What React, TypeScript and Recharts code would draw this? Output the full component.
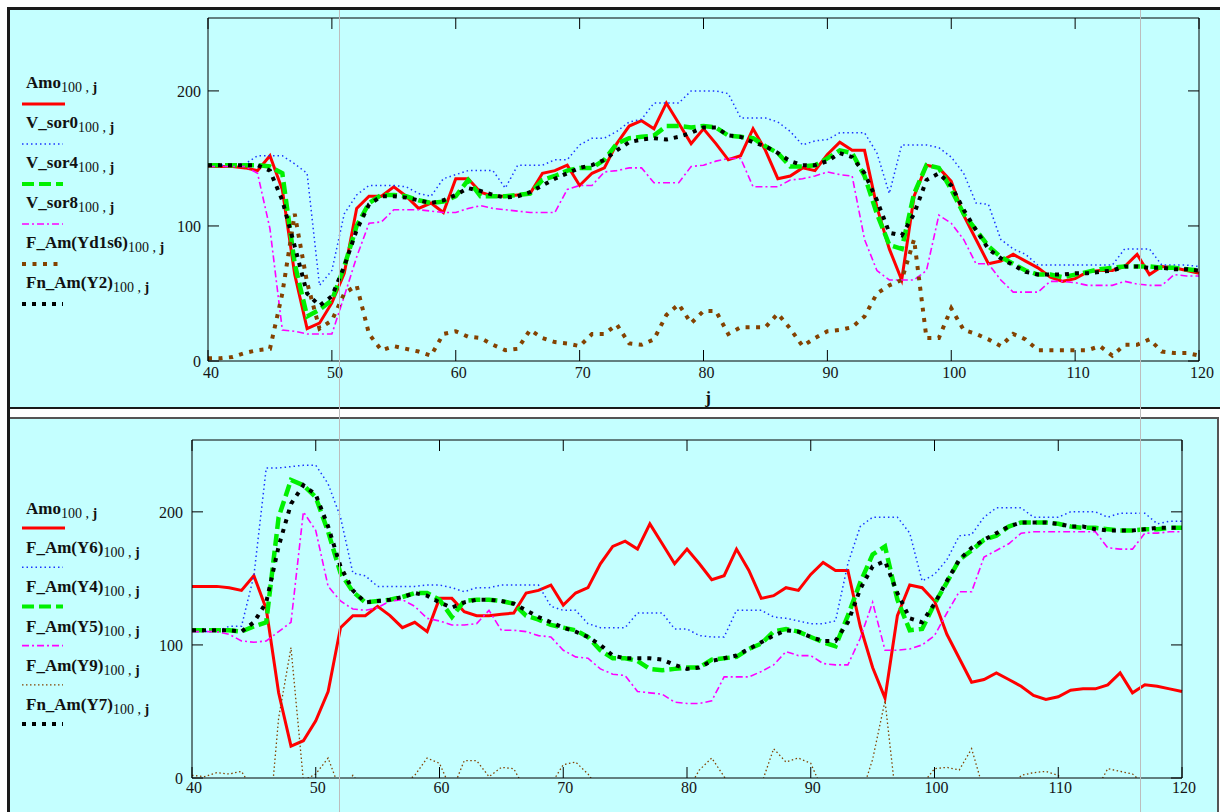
import { LineChart, Line, XAxis, YAxis } from 'recharts'

// j index shared by both panels
const J = [
  40, 41, 42, 43, 44, 45, 46, 47, 48, 49,
  50, 51, 52, 53, 54, 55, 56, 57, 58, 59,
  60, 61, 62, 63, 64, 65, 66, 67, 68, 69,
  70, 71, 72, 73, 74, 75, 76, 77, 78, 79,
  80, 81, 82, 83, 84, 85, 86, 87, 88, 89,
  90, 91, 92, 93, 94, 95, 96, 97, 98, 99,
  100, 101, 102, 103, 104, 105, 106, 107, 108, 109,
  110, 111, 112, 113, 114, 115, 116, 117, 118, 119,
  120,
]

const AMO = [
  144, 144, 144, 143, 141, 152, 127, 64, 24, 28,
  43, 65, 113, 122, 122, 129, 122, 113, 117, 110,
  135, 135, 125, 122, 122, 123, 124, 139, 141, 145,
  130, 139, 143, 161, 174, 178, 172, 191, 176, 161,
  172, 161, 149, 152, 172, 156, 135, 137, 143, 141,
  153, 162, 156, 156, 114, 83, 60, 122, 145, 143,
  133, 108, 90, 72, 74, 79, 74, 69, 62, 59,
  61, 66, 67, 67, 70, 79, 64, 70, 69, 67,
  65,
]

// top panel
const V_SOR0 = [
  145, 145, 145, 146, 152, 152, 152, 146, 139, 56,
  67, 109, 123, 130, 130, 130, 129, 124, 122, 135,
  138, 141, 141, 141, 128, 145, 145, 145, 149, 149,
  160, 165, 165, 170, 177, 179, 191, 191, 191, 200,
  200, 200, 198, 180, 180, 180, 177, 170, 160, 163,
  164, 169, 169, 169, 154, 124, 160, 160, 160, 158,
  151, 139, 117, 116, 90, 83, 79, 71, 71, 71,
  71, 71, 71, 71, 83, 83, 83, 71, 71, 71,
  70,
]
const V_SOR4 = [
  145, 145, 145, 145, 145, 144, 139, 72, 33, 38,
  45, 70, 100, 117, 123, 123, 122, 119, 117, 118,
  122, 134, 122, 122, 122, 123, 124, 134, 137, 141,
  143, 143, 149, 161, 165, 166, 167, 174, 174, 173,
  174, 173, 167, 166, 165, 159, 154, 144, 144, 145,
  150, 156, 154, 137, 109, 86, 83, 124, 145, 143,
  127, 109, 97, 85, 77, 72, 67, 64, 64, 62,
  64, 66, 68, 69, 70, 70, 70, 69, 69, 68,
  67,
]
const V_SOR8 = [
  144, 144, 144, 144, 139, 98, 23, 22, 20, 20,
  20, 48, 77, 102, 103, 112, 112, 112, 111, 110,
  110, 113, 115, 113, 112, 111, 110, 110, 110, 127,
  130, 130, 140, 141, 143, 143, 132, 132, 132, 144,
  145, 148, 150, 150, 129, 129, 129, 134, 135, 137,
  140, 138, 137, 90, 67, 60, 60, 60, 67, 108,
  102, 90, 72, 72, 60, 51, 51, 51, 59, 59,
  58, 56, 56, 56, 59, 57, 56, 56, 64, 63,
  63,
]
const F_YD1S6 = [
  2, 2, 3, 6, 8, 9, 50, 109, 58, 24,
  30, 50, 56, 20, 8, 11, 9, 7, 4, 20,
  22, 18, 17, 12, 8, 9, 23, 17, 14, 13,
  11, 20, 20, 27, 13, 12, 16, 34, 42, 28,
  37, 37, 20, 25, 25, 25, 35, 24, 11, 17,
  22, 23, 25, 33, 50, 56, 60, 90, 17, 17,
  39, 23, 20, 16, 11, 20, 16, 8, 8, 8,
  8, 8, 11, 4, 12, 12, 16, 7, 6, 6,
  4,
]
const FN_Y2 = [
  145, 145, 145, 145, 145, 141, 119, 85, 50, 41,
  48, 70, 97, 116, 122, 122, 121, 119, 117, 119,
  123, 128, 126, 123, 121, 122, 125, 130, 135, 139,
  143, 145, 149, 156, 162, 164, 165, 164, 166, 169,
  173, 173, 167, 166, 162, 159, 154, 148, 145, 145,
  148, 154, 151, 139, 119, 95, 93, 109, 134, 139,
  130, 112, 97, 83, 76, 71, 66, 64, 64, 64,
  65, 65, 66, 67, 70, 70, 69, 69, 68, 68,
  67,
]

// bottom panel
const F_Y6 = [
  110, 110, 110, 114, 114, 152, 233, 233, 234, 235,
  235, 221, 196, 154, 152, 144, 144, 144, 144, 145,
  145, 143, 140, 143, 143, 145, 145, 145, 145, 129,
  126, 126, 116, 113, 113, 113, 124, 124, 124, 112,
  112, 107, 106, 106, 126, 126, 126, 121, 120, 118,
  116, 116, 118, 161, 189, 196, 196, 196, 184, 148,
  153, 164, 182, 183, 196, 203, 203, 203, 196, 196,
  196, 200, 200, 200, 196, 199, 199, 199, 191, 193,
  193,
]
const F_Y4 = [
  111, 111, 111, 111, 110, 114, 117, 196, 224, 220,
  211, 185, 154, 140, 132, 133, 134, 136, 139, 139,
  134, 121, 133, 134, 134, 133, 131, 122, 119, 115,
  113, 111, 106, 96, 90, 90, 88, 82, 81, 82,
  83, 83, 89, 90, 91, 97, 101, 110, 112, 110,
  106, 102, 99, 122, 147, 168, 174, 134, 111, 112,
  131, 147, 164, 171, 179, 182, 189, 192, 192, 192,
  191, 189, 188, 188, 187, 186, 186, 187, 187, 188,
  188,
]
const F_Y5 = [
  110, 110, 110, 108, 103, 102, 103, 110, 117, 200,
  186, 144, 133, 127, 126, 128, 133, 134, 129, 120,
  118, 115, 115, 116, 126, 111, 111, 110, 107, 106,
  96, 91, 90, 82, 78, 77, 65, 64, 63, 57,
  56, 56, 58, 76, 76, 76, 80, 85, 95, 92,
  92, 86, 85, 85, 105, 132, 96, 96, 97, 100,
  107, 124, 140, 140, 166, 171, 176, 184, 185, 185,
  185, 185, 185, 185, 173, 172, 172, 184, 184, 185,
  185,
]
const F_Y9 = [
  2, 1, 4, 3, 5, -10, -60, 45, 98, -2,
  3, 15, -10, 2, -10, -10, -10, -5, 2, 15,
  11, -10, 13, 13, 1, 8, 7, -10, -10, -5,
  10, 12, 3, -10, -10, -10, -10, -10, -10, -10,
  -10, 6, 15, 1, -10, -10, -5, 22, 12, 15,
  11, -10, -10, -10, -15, 14, 58, -25, -10, -5,
  7, 8, 6, 22, -10, -10, -10, 2, 4, 5,
  2, -10, -10, -10, 7, 5, 3, -5, -10, -10,
  -10,
]
const FN_Y7 = [
  111, 111, 111, 111, 110, 117, 132, 174, 206, 220,
  213, 189, 159, 141, 132, 133, 134, 136, 139, 137,
  132, 128, 132, 134, 134, 133, 131, 126, 121, 117,
  113, 110, 106, 100, 92, 90, 90, 90, 89, 85,
  82, 83, 88, 90, 92, 97, 102, 107, 111, 110,
  106, 103, 103, 117, 142, 159, 163, 139, 120, 117,
  131, 148, 164, 173, 179, 184, 189, 192, 192, 192,
  191, 189, 189, 187, 186, 186, 186, 187, 188, 188,
  188,
]

const X_TICKS = [40, 50, 60, 70, 80, 90, 100, 110, 120]
const Y_TICKS = [0, 100, 200]
const X_DOMAIN = [40, 120]
const Y_DOMAIN = [0, 254]

const BG = '#c4ffff'
const SERIF = '"Liberation Serif", "Times New Roman", serif'
const TICK = 11

type Series = { key: string; label: string; color: string; width: number; dash?: string }

const RED = '#ff0000'
const BLUE = '#1a35ff'
const GREEN = '#00f000'
const MAGENTA = '#ff00ff'
const BROWN = '#844200'

const TOP_SERIES: Series[] = [
  { key: 'amo', label: 'Amo', color: RED, width: 3 },
  { key: 'vsor0', label: 'V_sor0', color: BLUE, width: 1.5, dash: '1.5 3' },
  { key: 'vsor4', label: 'V_sor4', color: GREEN, width: 4.5, dash: '12 5' },
  { key: 'vsor8', label: 'V_sor8', color: MAGENTA, width: 1.6, dash: '7 3 2 3' },
  { key: 'yd1s6', label: 'F_Am(Yd1s6)', color: BROWN, width: 4, dash: '4 6.5' },
  { key: 'y2', label: 'Fn_Am(Y2)', color: '#000', width: 4, dash: '4 6' },
]

const BOT_SERIES: Series[] = [
  { key: 'amo', label: 'Amo', color: RED, width: 3 },
  { key: 'y6', label: 'F_Am(Y6)', color: BLUE, width: 1.5, dash: '1.5 3' },
  { key: 'y4', label: 'F_Am(Y4)', color: GREEN, width: 4.5, dash: '12 5' },
  { key: 'y5', label: 'F_Am(Y5)', color: MAGENTA, width: 1.6, dash: '7 3 2 3' },
  { key: 'y9', label: 'F_Am(Y9)', color: BROWN, width: 1.3, dash: '1.5 2.5' },
  { key: 'y7', label: 'Fn_Am(Y7)', color: '#000', width: 4, dash: '4 6' },
]

function Panel({ top, height, rows, series, margin, labX, labY, yLabX }: any) {
  const bottomTick = ({ x, y, payload }: any) => (
    <g>
      <line x1={x} x2={x} y1={y} y2={y - TICK} stroke="#000" />
      <text x={x + labX} y={y + labY} textAnchor="middle" fontFamily={SERIF} fontSize={16} fill="#151515">
        {payload.value}
      </text>
    </g>
  )
  const topTick = ({ x, y }: any) => <line x1={x} x2={x} y1={y} y2={y + TICK} stroke="#000" />
  const leftTick = ({ x, y, payload }: any) => (
    <g>
      <line x1={x} x2={x + TICK} y1={y} y2={y} stroke="#000" />
      <text x={x + yLabX} y={y + 6} textAnchor="end" fontFamily={SERIF} fontSize={16} fill="#151515">
        {payload.value}
      </text>
    </g>
  )
  const rightTick = ({ x, y }: any) => <line x1={x} x2={x - TICK} y1={y} y2={y} stroke="#000" />

  return (
    <div style={{ position: 'absolute', left: 0, top }}>
      <LineChart width={1220} height={height} data={rows} margin={margin}>
        <XAxis xAxisId="b" dataKey="j" type="number" domain={X_DOMAIN} ticks={X_TICKS} interval={0}
          height={30} tickSize={0} tickMargin={0} tickLine={false} axisLine={{ stroke: '#000' }} tick={bottomTick} />
        <XAxis xAxisId="t" orientation="top" dataKey="j" type="number" domain={X_DOMAIN} ticks={X_TICKS} interval={0}
          height={10} tickSize={0} tickMargin={0} tickLine={false} axisLine={{ stroke: '#000' }} tick={topTick} />
        <YAxis yAxisId="l" type="number" domain={Y_DOMAIN} allowDataOverflow ticks={Y_TICKS} interval={0}
          width={60} tickSize={0} tickMargin={0} tickLine={false} axisLine={{ stroke: '#000' }} tick={leftTick} />
        <YAxis yAxisId="r" orientation="right" type="number" domain={Y_DOMAIN} allowDataOverflow ticks={Y_TICKS} interval={0}
          width={10} tickSize={0} tickMargin={0} tickLine={false} axisLine={{ stroke: '#000' }} tick={rightTick} />
        {series.map((s: Series) => (
          <Line key={s.key} xAxisId="b" yAxisId="l" type="linear" dataKey={s.key} stroke={s.color}
            strokeWidth={s.width} strokeDasharray={s.dash} dot={false} activeDot={false} isAnimationActive={false} />
        ))}
      </LineChart>
    </div>
  )
}

function LegendBlock({ series, firstLine, step, textUp }: any) {
  return (
    <g>
      {series.map((s: Series, i: number) => {
        const ly = firstLine + i * step
        return (
          <g key={s.key}>
            <text x={26} y={ly - textUp} fontFamily={SERIF} fill="#111">
              <tspan fontSize={17} fontWeight="bold">{s.label}</tspan>
              <tspan fontSize={14} dy={4}>100 , </tspan>
              <tspan fontSize={14} fontWeight="bold">j</tspan>
            </text>
            <line x1={22} x2={s.dash ? 63 : 65} y1={ly} y2={ly} stroke={s.color}
              strokeWidth={s.width === 4.5 ? 4 : s.width} strokeDasharray={s.dash} />
          </g>
        )
      })}
    </g>
  )
}

export default function App() {
  const topRows = J.map((j, i) => ({
    j, amo: AMO[i], vsor0: V_SOR0[i], vsor4: V_SOR4[i], vsor8: V_SOR8[i], yd1s6: F_YD1S6[i], y2: FN_Y2[i],
  }))
  const botRows = J.map((j, i) => ({
    j, amo: AMO[i], y6: F_Y6[i], y4: F_Y4[i], y5: F_Y5[i], y9: F_Y9[i], y7: FN_Y7[i],
  }))

  return (
    <div style={{ position: 'fixed', left: 0, top: 0, width: 1220, height: 812, background: '#fff', overflow: 'hidden' }}>
      {/* panel backgrounds and frames */}
      <div style={{ position: 'absolute', left: 10, top: 9, width: 1210, height: 398, background: BG }} />
      <div style={{ position: 'absolute', left: 10, top: 419, width: 1207, height: 393, background: BG }} />
      <div style={{ position: 'absolute', left: 7, top: 7, width: 1213, height: 3, background: '#1a1a1a' }} />
      <div style={{ position: 'absolute', left: 7, top: 7, width: 3, height: 805, background: '#1a1a1a' }} />
      <div style={{ position: 'absolute', left: 10, top: 407, width: 1210, height: 2, background: '#1a1a1a' }} />
      <div style={{ position: 'absolute', left: 10, top: 417, width: 1209, height: 2, background: '#555' }} />
      <div style={{ position: 'absolute', left: 1217, top: 417, width: 2, height: 395, background: '#555' }} />

      <Panel top={0} height={408} rows={topRows} series={TOP_SERIES}
        margin={{ top: 8, right: 11, bottom: 17, left: 148 }} labX={3} labY={17} yLabX={-7} />
      <Panel top={418} height={394} rows={botRows} series={BOT_SERIES}
        margin={{ top: 12, right: 28, bottom: 4, left: 132 }} labX={2} labY={15} yLabX={-9} />

      <svg width={1220} height={812} style={{ position: 'absolute', left: 0, top: 0, pointerEvents: 'none' }}>
        <LegendBlock series={TOP_SERIES} firstLine={104} step={40} textUp={16} />
        <LegendBlock series={BOT_SERIES} firstLine={528} step={39.2} textUp={14} />
        <text x={708} y={403} textAnchor="middle" fontFamily={SERIF} fontSize={17} fontWeight="bold" fill="#111">j</text>
        <line x1={339.5} x2={339.5} y1={10} y2={812} stroke="#bdbdbd" strokeWidth={1} />
        <line x1={1140.5} x2={1140.5} y1={10} y2={812} stroke="#bdbdbd" strokeWidth={1} />
      </svg>
    </div>
  )
}
